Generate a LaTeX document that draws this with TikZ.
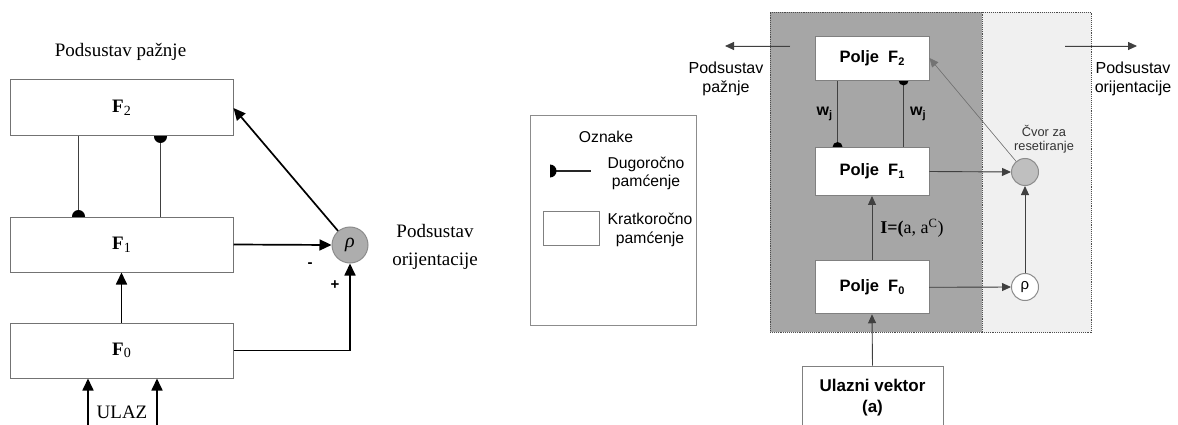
\documentclass[tikz,border=0pt]{standalone}
\usepackage{fontspec}
\setmainfont{Liberation Serif}
\setsansfont{Liberation Sans}
\usetikzlibrary{arrows.meta,calc}
\pgfdeclarelayer{back}\pgfdeclarelayer{mid}\pgfsetlayers{back,mid,main}
\newcommand{\lsub}[1]{\raisebox{-0.3ex}{\fontsize{14}{14}\selectfont #1}}
\newcommand{\rsub}[1]{\raisebox{-0.35ex}{\fontsize{11}{11}\selectfont\bfseries #1}}
\begin{document}
\begin{tikzpicture}[x=1pt,y=-1pt,
  lbox/.style={draw=black!55, line width=1pt, fill=white, minimum width=223pt, inner sep=0pt, font=\fontsize{19}{22}\selectfont},
  larr/.style={-{Triangle[length=12pt,width=11pt]}, line width=1.7pt},
  lline/.style={line width=1.2pt, draw=black!75},
  ltext/.style={font=\fontsize{19}{28}\selectfont, align=center, inner sep=0pt},
  region/.style={densely dotted, draw=black!70, line width=0.9pt, inner sep=0pt},
  rbox/.style={draw=black!50, line width=0.9pt, fill=white, minimum width=114pt, inner sep=0pt, font=\sffamily\bfseries\fontsize{16.5}{19}\selectfont},
  rarr/.style={-{Triangle[length=9pt,width=8pt]}, line width=0.9pt, draw=black!75, fill=black!75},
  rline/.style={line width=1pt, draw=black!75},
  stext/.style={font=\sffamily\fontsize{16}{19}\selectfont, align=center, inner sep=0pt},
  ctext/.style={font=\sffamily\fontsize{15.7}{18.5}\selectfont, align=center, inner sep=0pt}
]
\path[use as bounding box] (0,0) rectangle (1178,425);
\clip (0,0) rectangle (1178,425);

% ---------------- left diagram ----------------
\node[lbox, minimum height=56pt] (lF2) at (121.5,108) {\textbf{F}\lsub{2}};
\node[lbox, minimum height=55pt] (lF1) at (121.5,244.5) {\textbf{F}\lsub{1}};
\node[lbox, minimum height=55pt] (lF0) at (121.5,350.5) {\textbf{F}\lsub{0}};
\node[circle, draw=black!45, fill=black!32, minimum size=36pt, inner sep=0pt, line width=1pt,
      font=\fontsize{20}{22}\selectfont\itshape] (lrho) at (350,245) {ρ};
\node[ltext] (lps) at (120.5,52) {Podsustav pažnje};
\node[ltext] (lpo) at (435,247) {Podsustav\\orijentacije};
\node[font=\sffamily\fontsize{15}{15}\selectfont\bfseries, inner sep=0pt] (lminus) at (310,265) {-};
\node[font=\sffamily\fontsize{15}{15}\selectfont\bfseries, inner sep=0pt] (lplus) at (335,285) {+};
\node[ltext] (lulaz) at (122,412) {ULAZ};

\begin{pgfonlayer}{mid}
\draw[lline] ([xshift=69pt]lF2.south west) -- ([xshift=69pt]lF1.north west);
\fill ([xshift=69pt]lF1.north west) circle[radius=6.5pt];
\draw[lline] ([xshift=151pt]lF2.south west) -- ([xshift=151pt]lF1.north west);
\fill ([xshift=151pt]lF2.south west) circle[radius=6.5pt];
\end{pgfonlayer}

\draw[larr] (lF0.north) -- (lF1.south);
\draw[larr] (lF1.east) -- (lrho.west);
\draw[larr] (lF0.east) -| (lrho.south);
\draw[larr] (lrho) -- (lF2.east);
\coordinate (lu1) at (88,426);
\coordinate (lu2) at (157,426);
\draw[larr] (lu1) -- (lu1 |- lF0.south);
\draw[larr] (lu2) -- (lu2 |- lF0.south);

% ---------------- legend ----------------
\node[draw=black!45, line width=0.9pt, minimum width=166pt, minimum height=210pt, inner sep=0pt] (leg) at (613,220) {};
\node[ctext] (legt) at (606,137) {Oznake};
\coordinate (lg1) at (550,171);
\coordinate (lg2) at (591,171);
\draw[line width=1.1pt, draw=black!85] (lg1) -- (lg2);
\fill (lg1) ++(0pt,-6.5pt) arc[start angle=-90, end angle=90, radius=6.5pt] -- cycle;
\node[ctext] (legd) at (646,173.5) {Dugoročno\\pamćenje};
\node[draw=black!50, line width=0.9pt, minimum width=56pt, minimum height=34pt, inner sep=0pt] (legb) at (571,228) {};
\node[ctext] (legk) at (650,230) {Kratkoročno\\pamćenje};

% ---------------- right diagram ----------------
\begin{pgfonlayer}{back}
\node[region, fill=black!35, minimum width=212pt, minimum height=320pt] (rAtt) at (876,172) {};
\node[region, fill=black!6, minimum width=109pt, minimum height=320pt] (rOri) at (1036.5,172) {};
\end{pgfonlayer}

\node[rbox, minimum height=44pt] (rF2) at (872,58) {Polje\ \ F\rsub{2}};
\node[rbox, minimum height=48pt] (rF1) at (872,171.5) {Polje\ \ F\rsub{1}};
\node[rbox, minimum height=53pt] (rF0) at (872,287.3) {Polje\ \ F\rsub{0}};
\node[draw=black!50, line width=0.9pt, fill=white, minimum width=141pt, minimum height=63pt, inner sep=0pt,
      align=center, font=\sffamily\bfseries\fontsize{17}{21}\selectfont] (rUl) at (872.5,397.5) {Ulazni vektor\\(a)};
\node[circle, draw=black!45, fill=black!25, line width=1pt, minimum size=27pt, inner sep=0pt] (rR) at (1025,172) {};
\node[circle, draw=black!45, fill=white, line width=1pt, minimum size=27pt, inner sep=0pt,
      font=\sffamily\fontsize{15}{15}\selectfont] (rRho) at (1025,287) {ρ};
\node[stext] (rps) at (726,78.5) {Podsustav\\pažnje};
\node[stext] (rpo) at (1133,78.5) {Podsustav\\orijentacije};
\node[font=\sffamily\fontsize{12.8}{14.5}\selectfont, align=center, inner sep=0pt, text=black!80] (rcv) at (1044,139) {Čvor za\\resetiranje};

\begin{pgfonlayer}{mid}
\draw[rline] ([xshift=23pt]rF2.south west) -- ([xshift=23pt]rF1.north west)
   node[pos=0.5, left=5pt, font=\sffamily\bfseries\fontsize{16}{19}\selectfont, inner sep=0pt] (rw1) {w\rsub{j}};
\fill ([xshift=23pt]rF1.north west) circle[radius=5pt];
\draw[rline] ([xshift=89pt]rF2.south west) -- ([xshift=89pt]rF1.north west)
   node[pos=0.5, right=6pt, font=\sffamily\bfseries\fontsize{16}{19}\selectfont, inner sep=0pt] (rw2) {w\rsub{j}};
\fill ([xshift=89pt]rF2.south west) circle[radius=5pt];
\end{pgfonlayer}

\draw[rarr] (rUl.north) -- (rF0.south);
\draw[rarr] (rF0.north) -- (rF1.south)
   node[pos=0.5, right=8pt, inner sep=0pt, font=\fontsize{18}{20}\selectfont] (rI) {\textbf{I=(}a, a\textsuperscript{C})};
\draw[rarr] (rF1.east) -- (rR.west);
\draw[rarr] (rF0.east) -- (rRho.west);
\draw[rarr] (rRho.north) -- (rR.south);
\draw[-{Triangle[length=9pt,width=8pt]}, line width=0.55pt, draw=black!55, fill=black!75] (rR) -- (rF2.east);
\coordinate (ta1) at (790,46);
\coordinate (ta2) at (725,46);
\coordinate (tb1) at (1065,46);
\coordinate (tb2) at (1137,46);
\draw[rarr] (ta1) -- (ta2);
\draw[rarr] (tb1) -- (tb2);
\end{tikzpicture}
\end{document}
